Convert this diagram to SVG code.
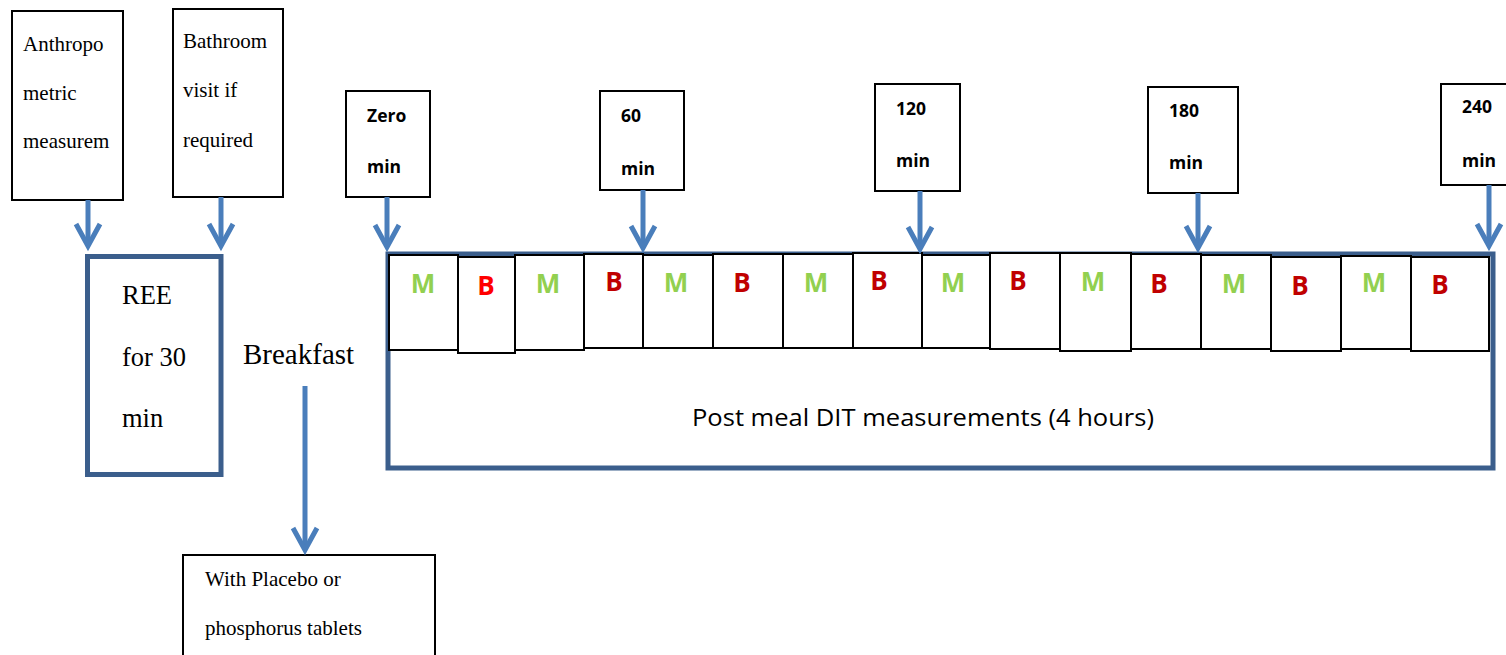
<svg xmlns="http://www.w3.org/2000/svg" width="1506" height="655" viewBox="0 0 1506 655">
<defs>
<style>
.box{fill:#fff;stroke:#000;stroke-width:2}
.thick{fill:#fff;stroke:#3b5e8c;stroke-width:5}
.cell{fill:#fff;stroke:#000;stroke-width:2}
.arr{fill:none;stroke:#4a7ebb;stroke-width:5}
.serif{font-family:"Liberation Serif","Times New Roman",serif;fill:#000}
.tl{font-family:"Open Sans","Liberation Sans",sans-serif;font-weight:bold;font-size:17.5px;fill:#000}
.m{font-family:"Open Sans","Liberation Sans",sans-serif;font-weight:bold;font-size:26px;fill:#92d050;text-anchor:middle}
.b{font-family:"Open Sans","Liberation Sans",sans-serif;font-weight:bold;font-size:26px;fill:#c00000;text-anchor:middle}
.dit{font-family:"Open Sans","Liberation Sans",sans-serif;font-size:24.5px;fill:#000;text-anchor:middle}
</style>
<marker id="chev" markerUnits="userSpaceOnUse" viewBox="-30 -16 34 32" refX="0" refY="0" markerWidth="34" markerHeight="32" orient="auto" overflow="visible">
<path d="M-22,-12 L0,0 L-22,12" fill="none" stroke="#4a7ebb" stroke-width="5" stroke-linejoin="miter"/>
</marker>
</defs>

<g id="anthropometric">
<rect class="box" x="12" y="11" width="111" height="189"/>
<text class="serif" font-size="21" x="23" y="51">Anthropo</text>
<text class="serif" font-size="21" x="23" y="100">metric</text>
<text class="serif" font-size="21" x="23" y="148">measurem</text>
</g>

<g id="bathroom">
<rect class="box" x="173" y="9" width="110" height="188"/>
<text class="serif" font-size="21" x="183" y="48">Bathroom</text>
<text class="serif" font-size="21" x="183" y="97">visit if</text>
<text class="serif" font-size="21" x="183" y="147">required</text>
</g>

<g id="ree">
<rect class="thick" x="87.5" y="256.5" width="133.5" height="218"/>
<text class="serif" font-size="26.5" x="122" y="304">REE</text>
<text class="serif" font-size="26.5" x="122" y="366">for 30</text>
<text class="serif" font-size="26.5" x="122" y="427">min</text>
</g>

<g id="breakfast">
<text class="serif" font-size="29" x="243" y="364">Breakfast</text>
</g>

<g id="placebo">
<rect class="box" x="183" y="555" width="252" height="110"/>
<text class="serif" font-size="21" x="205" y="586">With Placebo or</text>
<text class="serif" font-size="21" x="205" y="635">phosphorus tablets</text>
</g>

<g id="t0">
<rect class="box" x="346" y="91" width="84" height="106"/>
<text class="tl" x="367" y="122">Zero</text>
<text class="tl" x="367" y="173">min</text>
</g>
<g id="t60">
<rect class="box" x="600" y="91" width="84" height="99"/>
<text class="tl" x="621" y="122">60</text>
<text class="tl" x="621" y="175">min</text>
</g>
<g id="t120">
<rect class="box" x="875" y="84" width="85" height="107"/>
<text class="tl" x="896" y="115">120</text>
<text class="tl" x="896" y="167">min</text>
</g>
<g id="t180">
<rect class="box" x="1148" y="87" width="90" height="106"/>
<text class="tl" x="1169" y="117">180</text>
<text class="tl" x="1169" y="169">min</text>
</g>
<g id="t240">
<rect class="box" x="1441" y="84" width="70" height="101"/>
<text class="tl" x="1462" y="113">240</text>
<text class="tl" x="1462" y="167">min</text>
</g>

<g id="dit">
<rect class="thick" x="388" y="254" width="1105" height="214"/>
<text class="dit" x="923" y="426" textLength="462" lengthAdjust="spacingAndGlyphs">Post meal DIT measurements (4 hours)</text>
</g>

<g id="cells">
<g id="c1"><rect class="cell" x="389" y="255" width="69" height="95"/><text class="m" x="423" y="293">M</text></g>
<g id="c2"><rect class="cell" x="458" y="257" width="57" height="96"/><text class="b" x="486" y="295" style="fill:#ff0000">B</text></g>
<g id="c3"><rect class="cell" x="515" y="255" width="69" height="95"/><text class="m" x="548" y="293">M</text></g>
<g id="c4"><rect class="cell" x="584" y="254" width="59" height="94"/><text class="b" x="614" y="291">B</text></g>
<g id="c5"><rect class="cell" x="643" y="255" width="70" height="93"/><text class="m" x="676" y="292">M</text></g>
<g id="c6"><rect class="cell" x="713" y="254" width="70" height="94"/><text class="b" x="742" y="292">B</text></g>
<g id="c7"><rect class="cell" x="783" y="254" width="70" height="94"/><text class="m" x="816" y="292">M</text></g>
<g id="c8"><rect class="cell" x="853" y="253" width="69" height="95"/><text class="b" x="879" y="290">B</text></g>
<g id="c9"><rect class="cell" x="922" y="255" width="68" height="93"/><text class="m" x="953" y="292">M</text></g>
<g id="c10"><rect class="cell" x="990" y="253" width="70" height="96"/><text class="b" x="1018" y="290">B</text></g>
<g id="c11"><rect class="cell" x="1060" y="253" width="71" height="98"/><text class="m" x="1093" y="291">M</text></g>
<g id="c12"><rect class="cell" x="1131" y="254" width="70" height="95"/><text class="b" x="1159" y="293">B</text></g>
<g id="c13"><rect class="cell" x="1201" y="255" width="70" height="94"/><text class="m" x="1234" y="293">M</text></g>
<g id="c14"><rect class="cell" x="1271" y="257" width="70" height="94"/><text class="b" x="1300" y="295">B</text></g>
<g id="c15"><rect class="cell" x="1341" y="256" width="70" height="93"/><text class="m" x="1374" y="292">M</text></g>
<g id="c16"><rect class="cell" x="1411" y="257" width="78" height="94"/><text class="b" x="1440" y="294">B</text></g>
</g>

<g id="connectors">
<line class="arr" x1="88" y1="200" x2="88" y2="246" marker-end="url(#chev)"/>
<line class="arr" x1="221" y1="197" x2="221" y2="246" marker-end="url(#chev)"/>
<line class="arr" x1="305" y1="386" x2="305" y2="550" marker-end="url(#chev)"/>
<line class="arr" x1="387" y1="197" x2="387" y2="247" marker-end="url(#chev)"/>
<line class="arr" x1="643" y1="190" x2="643" y2="248" marker-end="url(#chev)"/>
<line class="arr" x1="920" y1="191" x2="920" y2="249" marker-end="url(#chev)"/>
<line class="arr" x1="1198" y1="193" x2="1198" y2="248" marker-end="url(#chev)"/>
<line class="arr" x1="1489" y1="185" x2="1489" y2="246" marker-end="url(#chev)"/>
</g>
</svg>
